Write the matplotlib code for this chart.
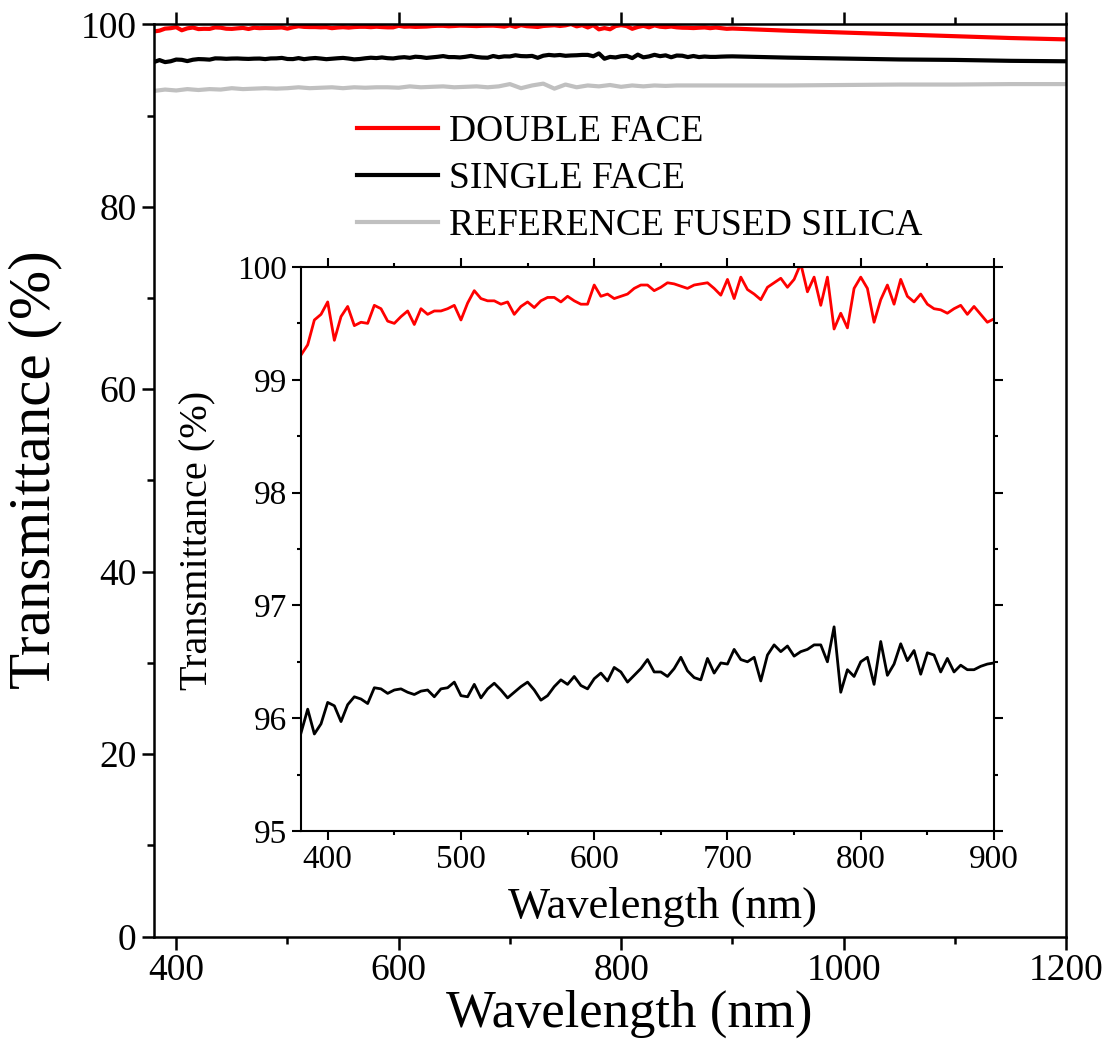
"""Transmittance spectra: double face / single face / reference fused silica, with zoomed inset."""
import matplotlib
matplotlib.use("Agg")
import matplotlib.pyplot as plt
import numpy as np
from matplotlib.ticker import MultipleLocator

plt.rcParams['font.family'] = ['Liberation Serif', 'DejaVu Serif']

# ---- data ----
# 380-900 nm, 5 nm steps (visible in the inset)
wl = np.arange(380, 901, 5)
double_face = [
    99.22, 99.31, 99.53, 99.58, 99.69, 99.35, 99.56, 99.65, 99.48, 99.51,
    99.50, 99.66, 99.63, 99.52, 99.50, 99.56, 99.61, 99.49, 99.63, 99.58,
    99.61, 99.61, 99.63, 99.66, 99.53, 99.68, 99.79, 99.72, 99.70, 99.70,
    99.67, 99.69, 99.58, 99.65, 99.69, 99.64, 99.70, 99.73, 99.73, 99.69,
    99.74, 99.70, 99.67, 99.67, 99.84, 99.74, 99.76, 99.72, 99.74, 99.76,
    99.81, 99.84, 99.84,
    99.79, 99.82, 99.86, 99.85, 99.83, 99.81, 99.84, 99.85, 99.86, 99.81,
    99.75, 99.89, 99.72, 99.91, 99.80, 99.76, 99.71, 99.82, 99.86, 99.90,
    99.82, 99.89, 100.03, 99.78, 99.91, 99.66, 99.91, 99.45, 99.59, 99.46,
    99.81, 99.91, 99.81, 99.51, 99.71, 99.84, 99.67, 99.89, 99.74, 99.69,
    99.76, 99.67, 99.63, 99.62, 99.59, 99.63, 99.66, 99.58, 99.65, 99.58,
    99.51, 99.54,
]
single_face = [
    95.87, 96.08, 95.86, 95.95, 96.14, 96.11, 95.97, 96.12, 96.19, 96.17,
    96.13, 96.27, 96.26, 96.22, 96.25, 96.26, 96.23, 96.21, 96.24, 96.25,
    96.19, 96.26, 96.27, 96.32, 96.20, 96.19, 96.30, 96.18, 96.26, 96.31,
    96.25, 96.18, 96.23, 96.28, 96.32, 96.25, 96.16, 96.20, 96.28, 96.34,
    96.30, 96.37, 96.29, 96.26, 96.35, 96.40, 96.33, 96.45, 96.41, 96.32,
    96.38, 96.44, 96.52,
    96.41, 96.41, 96.37, 96.44, 96.54, 96.42, 96.36, 96.34, 96.53, 96.40,
    96.49, 96.48, 96.61, 96.52, 96.50, 96.54, 96.33, 96.56, 96.65, 96.59,
    96.64, 96.55, 96.59, 96.61, 96.65, 96.65, 96.50, 96.81, 96.23, 96.43,
    96.37, 96.50, 96.54, 96.30, 96.68, 96.38, 96.48, 96.66, 96.51, 96.60,
    96.39, 96.58, 96.56, 96.41, 96.53, 96.41, 96.47, 96.43, 96.43, 96.46,
    96.48, 96.49,
]

# 950-1200 nm (only in the main panel, smooth)
wl_ext = [950, 1000, 1050, 1100, 1150, 1200]
double_ext = [99.30, 99.10, 98.90, 98.70, 98.50, 98.35]
single_ext = [96.35, 96.25, 96.15, 96.10, 96.00, 95.95]

# reference fused silica
wl_ref = list(range(380, 851, 10)) + [900, 950, 1000, 1050, 1100, 1150, 1200]
ref_silica = [
    92.7, 92.85, 92.75, 92.9, 92.8, 92.9, 92.85, 93.0, 92.9, 92.95,
    93.0, 92.95, 93.0, 93.1, 93.0, 93.05, 93.1, 93.0, 93.1, 93.05,
    93.1, 93.1, 93.05, 93.2, 93.1, 93.15, 93.2, 93.1, 93.15, 93.2,
    93.1, 93.2, 93.45, 93.0, 93.3, 93.5, 92.95, 93.4, 93.1, 93.3,
    93.2, 93.35, 93.15, 93.3, 93.2, 93.3, 93.25, 93.3,
    93.3, 93.3, 93.35, 93.4, 93.4, 93.45, 93.45,
]

RED = '#FF0000'
GRAY = '#C0C0C0'

fig = plt.figure(figsize=(11.10, 10.49), dpi=100)

# ---- main panel ----
ax = fig.add_axes([0.1387, 0.1072, 0.8217, 0.8696])
ax.plot(np.r_[wl, wl_ext], np.r_[double_face, double_ext], color=RED, lw=3, label='DOUBLE FACE')
ax.plot(np.r_[wl, wl_ext], np.r_[single_face, single_ext], color='black', lw=3, label='SINGLE FACE')
ax.plot(wl_ref, ref_silica, color=GRAY, lw=3, label='REFERENCE FUSED SILICA')

ax.set_xlim(380, 1200)
ax.set_ylim(0, 100)
ax.xaxis.set_major_locator(MultipleLocator(200))
ax.xaxis.set_minor_locator(MultipleLocator(100))
ax.yaxis.set_major_locator(MultipleLocator(20))
ax.yaxis.set_minor_locator(MultipleLocator(10))
ax.tick_params(which='both', direction='out', top=True, right=False, width=1.8, labelsize=27)
ax.tick_params(which='major', length=9)
ax.tick_params(which='minor', length=5)
for s in ax.spines.values():
    s.set_linewidth(1.8)
ax.set_xlabel('Wavelength (nm)', fontsize=38)
ax.set_ylabel('Transmittance (%)', fontsize=42.5)
ax.xaxis.set_label_coords(0.521, -0.058)
ax.yaxis.set_label_coords(-0.100, 0.5115)

ax.legend(loc='upper left', bbox_to_anchor=(0.202, 0.922), frameon=False, fontsize=27,
          handlelength=2.15, handletextpad=0.3, labelspacing=0.34, borderpad=0)

# ---- inset ----
axi = fig.add_axes([0.2712, 0.2078, 0.6243, 0.5377])
axi.plot(wl, double_face, color=RED, lw=2)
axi.plot(wl, single_face, color='black', lw=2)
axi.set_xlim(380, 900)
axi.set_ylim(95, 100)
axi.xaxis.set_major_locator(MultipleLocator(100))
axi.xaxis.set_minor_locator(MultipleLocator(50))
axi.yaxis.set_major_locator(MultipleLocator(1))
axi.yaxis.set_minor_locator(MultipleLocator(0.5))
axi.tick_params(which='both', direction='out', top=True, right=True, width=1.5, labelsize=24)
axi.tick_params(which='major', length=6.5)
axi.tick_params(which='minor', length=3)
for s in axi.spines.values():
    s.set_linewidth(1.5)
axi.set_xlabel('Wavelength (nm)', fontsize=32)
axi.set_ylabel('Transmittance (%)', fontsize=29)
axi.xaxis.set_label_coords(0.521, -0.098)
axi.yaxis.set_label_coords(-0.122, 0.516)

fig.savefig('out.png', dpi=100)
plt.close()
